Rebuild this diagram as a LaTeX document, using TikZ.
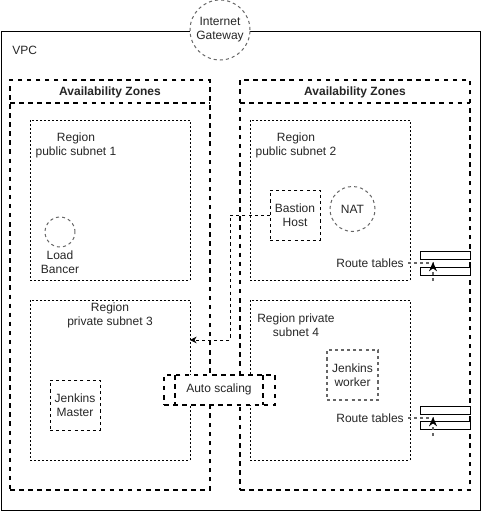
\documentclass[tikz,border=0pt]{standalone}
\usepackage{fontspec}
\setmainfont{Liberation Sans}
\usepackage{tikz}
\usetikzlibrary{arrows.meta, positioning, calc}

\begin{document}
\begin{tikzpicture}[
    x=0.75pt, y=-0.75pt,
    font=\fontsize{9}{10.5}\selectfont,
    txt/.style={text=black!85, align=center, inner sep=0pt},
    vpc/.style={draw, line width=0.75pt, minimum width=359.25pt, minimum height=359.25pt, inner sep=0pt, outer sep=0pt},
    zone/.style={draw, line width=1.1pt, dash pattern=on 3.4pt off 3.4pt, minimum height=307.5pt, inner sep=0pt, outer sep=0pt},
    subnet/.style={draw, line width=0.7pt, dash pattern=on 1.5pt off 1.5pt, minimum width=120pt, minimum height=120pt, inner sep=0pt, outer sep=0pt},
    host/.style={draw, line width=0.7pt, dash pattern=on 2.3pt off 2.3pt, minimum width=37.5pt, minimum height=37.5pt, inner sep=0pt, outer sep=0pt, txt},
    ring/.style={circle, draw=black!60, fill=white, line width=0.75pt, dash pattern=on 2.3pt off 2.3pt, inner sep=0pt, txt},
    rtbox/.style={draw, fill=white, line width=0.75pt, minimum width=37.5pt, minimum height=6pt, inner sep=0pt, outer sep=0pt},
    link/.style={draw=black!60, line width=0.9pt, dash pattern=on 2.3pt off 2.3pt},
    tip/.style={-{Stealth[length=7pt, width=6pt, black]}},
  ]
    \useasboundingbox (0,0) rectangle (481,511);

    % outer VPC and gateway
    \node[vpc] (vpc) at (240.5,270.5) {};
    \node[txt, anchor=west] (vpclbl) at (12,50) {VPC};
    \node[ring, minimum size=45pt, text=black!85] (igw) at (220,30) {Internet\\Gateway};

    % availability zones
    \node[zone, minimum width=150pt] (azleft) at (110,285) {};
    \node[zone, minimum width=172.5pt] (azright) at (355,285) {};
    \draw[line width=1.1pt, dash pattern=on 3.4pt off 3.4pt] (azleft.west |- 0,103) -- (azleft.east |- 0,103);
    \draw[line width=1.1pt, dash pattern=on 3.4pt off 3.4pt] (azright.west |- 0,103) -- (azright.east |- 0,103);
    \node[txt, font=\fontsize{9}{10.5}\selectfont\bfseries] (azltitle) at (110,92) {Availability Zones};
    \node[txt, font=\fontsize{9}{10.5}\selectfont\bfseries] (azrtitle) at (355,92) {Availability Zones};

    % subnets
    \node[subnet] (sub1) at (110,200) {};
    \node[subnet] (sub2) at (330,200) {};
    \node[subnet] (sub3) at (110,380) {};
    \node[subnet] (sub4) at (330,380) {};
    \node[txt] (sub1lbl) at (76,145) {Region\\public subnet 1};
    \node[txt] (sub2lbl) at (296,145) {Region\\public subnet 2};
    \node[txt] (sub3lbl) at (110,315) {Region\\private subnet 3};
    \node[txt] (sub4lbl) at (296,325) {Region private\\subnet 4};

    % hosts
    \node[ring, minimum size=22.5pt] (lb) at (60,232) {};
    \node[txt] (lblbl) at (60,262) {Load\\Bancer};
    \node[host] (bastion) at (295,215) {Bastion\\Host};
    \node[ring, minimum size=33.75pt] (nat) at (352.5,209) {NAT};
    \node[host] (master) at (75,405) {Jenkins\\Master};
    \node[host, draw=black!60, line width=1pt, minimum width=38.25pt] (worker) at (352.5,375) {Jenkins\\worker};

    % route tables
    \node[txt, anchor=east] (rt1lbl) at (404,263) {Route tables};
    \node[rtbox] (rt1a) at (445,255) {};
    \node[rtbox] (rt1b) at (445,271) {};
    \node[txt, anchor=east] (rt2lbl) at (404,418) {Route tables};
    \node[rtbox] (rt2a) at (445,410) {};
    \node[rtbox] (rt2b) at (445,425) {};
    \coordinate (rt1j) at (433,262);
    \coordinate (rt1s) at (433,281);
    \coordinate (rt2j) at (433,417);
    \coordinate (rt2s) at (433,436);
    \draw[link] (rt1lbl.east) ++(4,0) -- (433,263);
    \draw[link, tip] (rt1s) -- (rt1j);
    \draw[link] (rt2lbl.east) ++(4,0) -- (433,418);
    \draw[link, tip] (rt2s) -- (rt2j);

    % bastion link
    \coordinate (bend) at (230,340);
    \draw[line width=0.75pt, dash pattern=on 2.3pt off 2.3pt, -{Stealth[length=5pt, width=5pt]}] (bastion.west) -| (bend) -- (sub3.east |- bend);

    % auto scaling
    \node[draw, fill=white, line width=1.1pt, dash pattern=on 3.4pt off 3.4pt, minimum width=83.25pt, minimum height=22.5pt, inner sep=0pt, outer sep=0pt] (scaling) at (219.5,390) {};
    \draw[line width=1.1pt, dash pattern=on 3.4pt off 3.4pt] (175,375) -- (175,405) (263,375) -- (263,405);
    \node[txt] (scalinglbl) at (219,389) {Auto scaling};
\end{tikzpicture}
\end{document}
